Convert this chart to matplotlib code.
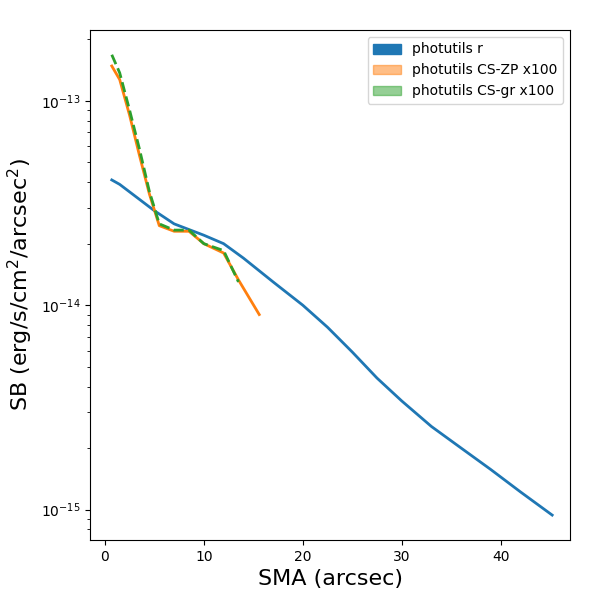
import matplotlib
matplotlib.use("Agg")
import matplotlib.pyplot as plt
import matplotlib.patches as mpatches

sma_r = [0.7, 1.5, 5, 7, 10, 12, 14, 17, 20, 22.5, 25, 27.5, 30, 33, 36, 39, 42, 45.2]
sb_r = [4.1e-14, 3.9e-14, 2.9e-14, 2.5e-14, 2.2e-14, 2.0e-14, 1.7e-14, 1.3e-14, 1.0e-14,
        7.8e-15, 5.9e-15, 4.4e-15, 3.4e-15, 2.55e-15, 2.0e-15, 1.57e-15, 1.22e-15, 0.94e-15]
sma_zp = [0.7, 1.5, 2.5, 3.5, 4.5, 5.5, 7, 8.5, 10, 12, 13.5, 15.6]
sb_zp = [1.48e-13, 1.27e-13, 8.5e-14, 5.4e-14, 3.5e-14, 2.45e-14, 2.3e-14, 2.3e-14, 2.0e-14, 1.8e-14, 1.33e-14, 9.0e-15]
sma_gr = [0.7, 1.5, 2.5, 3.5, 4.5, 5.5, 7, 8.5, 10, 12, 13.5]
sb_gr = [1.68e-13, 1.37e-13, 9e-14, 5.8e-14, 3.6e-14, 2.5e-14, 2.33e-14, 2.33e-14, 2.0e-14, 1.85e-14, 1.3e-14]

fig, ax = plt.subplots(figsize=(6, 6), dpi=100)
fig.subplots_adjust(left=0.15, right=0.95, top=0.95, bottom=0.1)
ax.plot(sma_r, sb_r, color='C0', lw=2)
ax.plot(sma_zp, sb_zp, color='C1', lw=2)
ax.plot(sma_gr, sb_gr, color='C2', lw=2, ls='--')
ax.set_yscale('log')
ax.set_xlim(-1.5, 47)
ax.set_ylim(7.1e-16, 2.22e-13)
ax.set_xlabel('SMA (arcsec)', fontsize=16)
ax.set_ylabel('SB (erg/s/cm$^2$/arcsec$^2$)', fontsize=16)
handles = [mpatches.Patch(color='C0', label='photutils r'),
           mpatches.Patch(color='C1', alpha=0.5, label='photutils CS-ZP x100'),
           mpatches.Patch(color='C2', alpha=0.5, label='photutils CS-gr x100')]
ax.legend(handles=handles, loc='upper right')
fig.savefig('out.png')
